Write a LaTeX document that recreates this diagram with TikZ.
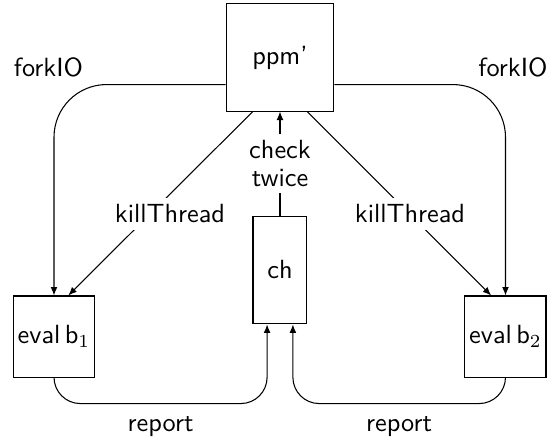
\documentclass[tikz,border=0pt]{standalone}
\usepackage{tikz}
\usepackage{amsmath}
\usetikzlibrary{arrows.meta, positioning, calc}

\begin{document}
\begin{tikzpicture}[
        x=0.38pt, y=-0.38pt,
        box/.style={rectangle, draw=black, inner sep=1pt, align=center, font=\sffamily},
        lbl/.style={font=\sffamily, align=center, inner sep=2.5pt},
        arrow/.style={-{Latex[length=3.2pt, width=2.6pt]}, thin, black}
    ]
    \useasboundingbox (0,0) rectangle (547,441);

    \node[box, minimum width=41pt, minimum height=40.7pt] (ppm) at (280,57.5) {ppm'};
    \node[box, minimum width=20.5pt, minimum height=41pt] (ch) at (280,270) {ch};
    \node[box, minimum size=30.8pt] (eval1) at (54,336.5) {eval\,b$_1$};
    \node[box, minimum size=30.8pt] (eval2) at (505.5,336.5) {eval\,b$_2$};

    % forkIO
    \draw[arrow, rounded corners=20pt] ($(ppm.south west)!0.25!(ppm.north west)$) -| (eval1.north);
    \draw[arrow, rounded corners=20pt] ($(ppm.south east)!0.25!(ppm.north east)$) -| (eval2.north);
    \node[lbl] (fork1) at (48.5,67) {forkIO};
    \node[lbl] (fork2) at (513,67) {forkIO};

    % killThread
    \draw[arrow] ($(ppm.south west)!0.25!(ppm.south east)$) -- ($(eval1.north west)!0.675!(eval1.north east)$);
    \draw[arrow] ($(ppm.south west)!0.75!(ppm.south east)$) -- ($(eval2.north west)!0.325!(eval2.north east)$);
    \node[lbl, fill=white] (kill1) at (170,214) {killThread};
    \node[lbl, fill=white] (kill2) at (410,214) {killThread};

    % check twice
    \draw[arrow] (ch) -- node[lbl, fill=white] (chk) {check\\[-1.7pt]twice} (ppm);

    % report
    \draw[arrow, rounded corners=10pt] (eval1.south) -- ++(0,26)
        -| node[lbl, pos=0.25, below=2.3pt] (rep1) {report} ([xshift=-4.9pt]ch.south);
    \draw[arrow, rounded corners=10pt] (eval2.south) -- ++(0,26)
        -| node[lbl, pos=0.25, below=2.3pt] (rep2) {report} ([xshift=4.9pt]ch.south);
\end{tikzpicture}
\end{document}
